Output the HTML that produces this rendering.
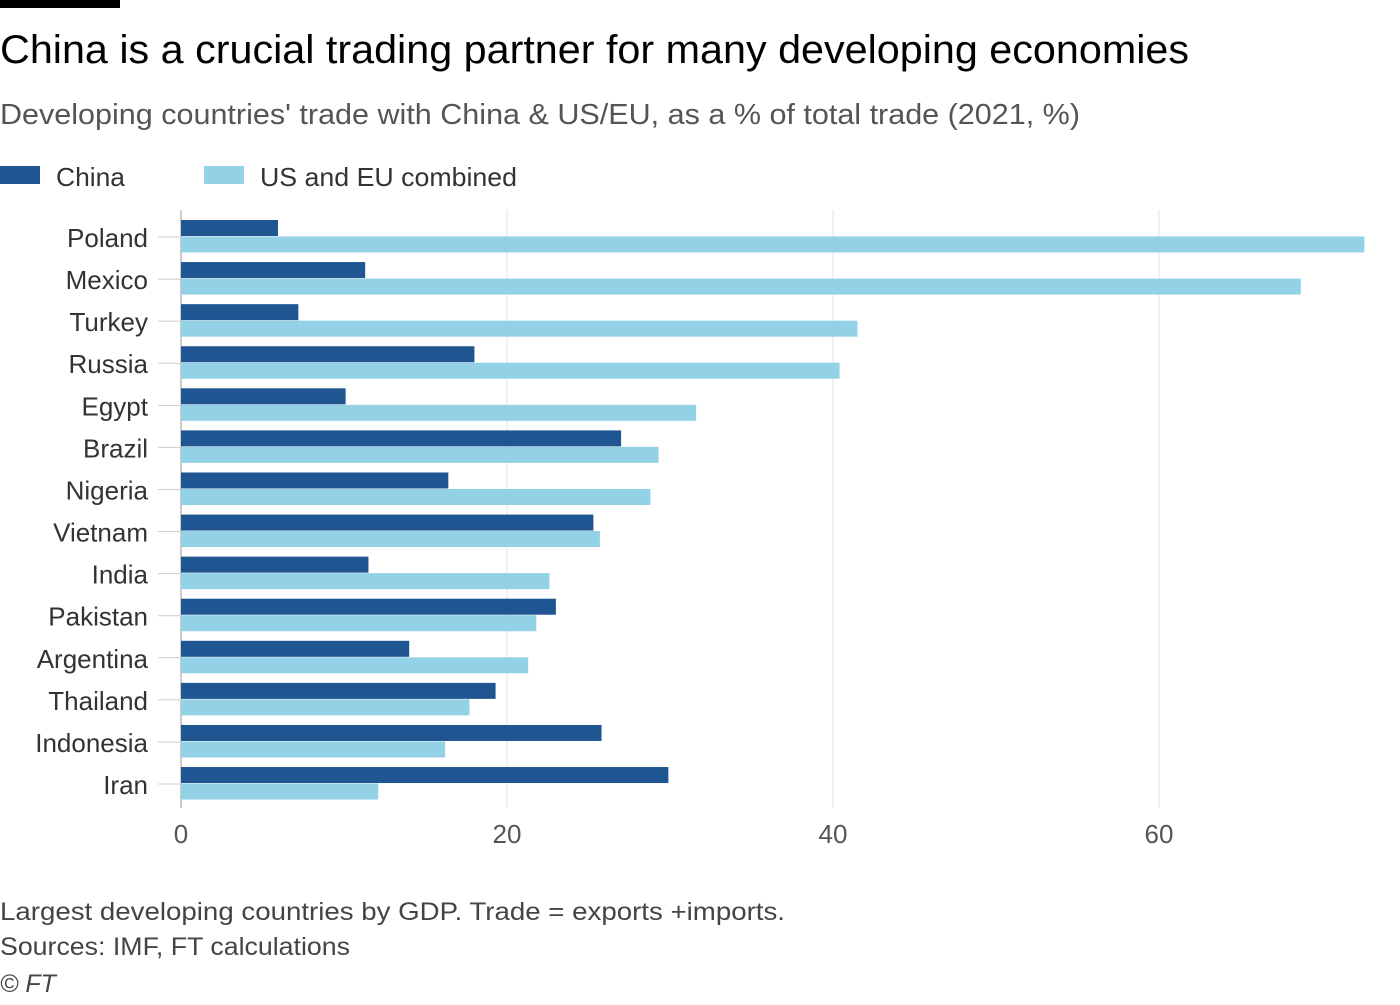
<!DOCTYPE html>
<html><head><meta charset="utf-8"><style>
body{margin:0;background:#fff;width:1400px;height:1000px;overflow:hidden;font-family:"Liberation Sans",sans-serif;}
</style></head><body>
<svg width="1400" height="1000" xmlns="http://www.w3.org/2000/svg">
<rect x="0" y="0" width="120" height="8" fill="#000"/>
<text x="0" y="63" font-size="40" fill="#000" textLength="1189" lengthAdjust="spacingAndGlyphs">China is a crucial trading partner for many developing economies</text>
<text x="0" y="124" font-size="29" fill="#555" textLength="1080" lengthAdjust="spacingAndGlyphs">Developing countries' trade with China &amp; US/EU, as a % of total trade (2021, %)</text>
<g>
<rect x="0" y="166" width="40" height="18" fill="#1f5590"/>
<text x="56" y="186" font-size="26" fill="#333" textLength="69" lengthAdjust="spacingAndGlyphs">China</text>
<rect x="204" y="166" width="40" height="18" fill="#92d1e6"/>
<text x="260" y="186" font-size="26" fill="#333" textLength="257" lengthAdjust="spacingAndGlyphs">US and EU combined</text>
</g>
<g id="plot"></g>
<text x="0" y="920" font-size="25" fill="#444" textLength="785" lengthAdjust="spacingAndGlyphs">Largest developing countries by GDP. Trade = exports +imports.</text>
<text x="0" y="955" font-size="25" fill="#444" textLength="350" lengthAdjust="spacingAndGlyphs">Sources: IMF, FT calculations</text>
<text x="0" y="992" font-size="25" font-style="italic" fill="#444">© FT</text>
</svg>
<script>
const categories=["Poland","Mexico","Turkey","Russia","Egypt","Brazil","Nigeria","Vietnam","India","Pakistan","Argentina","Thailand","Indonesia","Iran"];
const chinaValues=[5.95,11.3,7.2,18.0,10.1,27.0,16.4,25.3,11.5,23.0,14.0,19.3,25.8,29.9];
const useuValues=[72.6,68.7,41.5,40.4,31.6,29.3,28.8,25.7,22.6,21.8,21.3,17.7,16.2,12.1];
const tickValues=[0,20,40,60];
const NS="http://www.w3.org/2000/svg";
const g=document.getElementById('plot');
const x0=181,pxPer=16.3;
const xs=v=>x0+v*pxPer;
const rowY=i=>220+i*42.08;
function mk(t,a){const e=document.createElementNS(NS,t);for(const k in a)e.setAttribute(k,a[k]);g.appendChild(e);return e;}
tickValues.forEach(v=>{
 const l=mk('line',{x1:xs(v),x2:xs(v),y1:210,y2:808,stroke:v===0?'#999':'#e3e3e3','stroke-width':1});
 
 
 const t=mk('text',{x:xs(v),y:843,'font-size':26,fill:'#555','text-anchor':'middle'});
 t.textContent=v;
 
 
});
categories.forEach((c,i)=>{
 const y=rowY(i);
 const tk=mk('line',{x1:158,x2:181,y1:y+17,y2:y+17,stroke:'#ccc','stroke-width':1});
 
 
 const t=mk('text',{x:148,y:y+27,'font-size':26,fill:'#333','text-anchor':'end'});
 t.textContent=c;
 
 
 const b1=mk('rect',{x:x0,y:y,width:xs(chinaValues[i])-x0,height:16,fill:'#1f5590'});
 
 
 const b2=mk('rect',{x:x0,y:y+16.5,width:xs(useuValues[i])-x0,height:16,fill:'#92d1e6'});
 
 
});
</script>
</body></html>
